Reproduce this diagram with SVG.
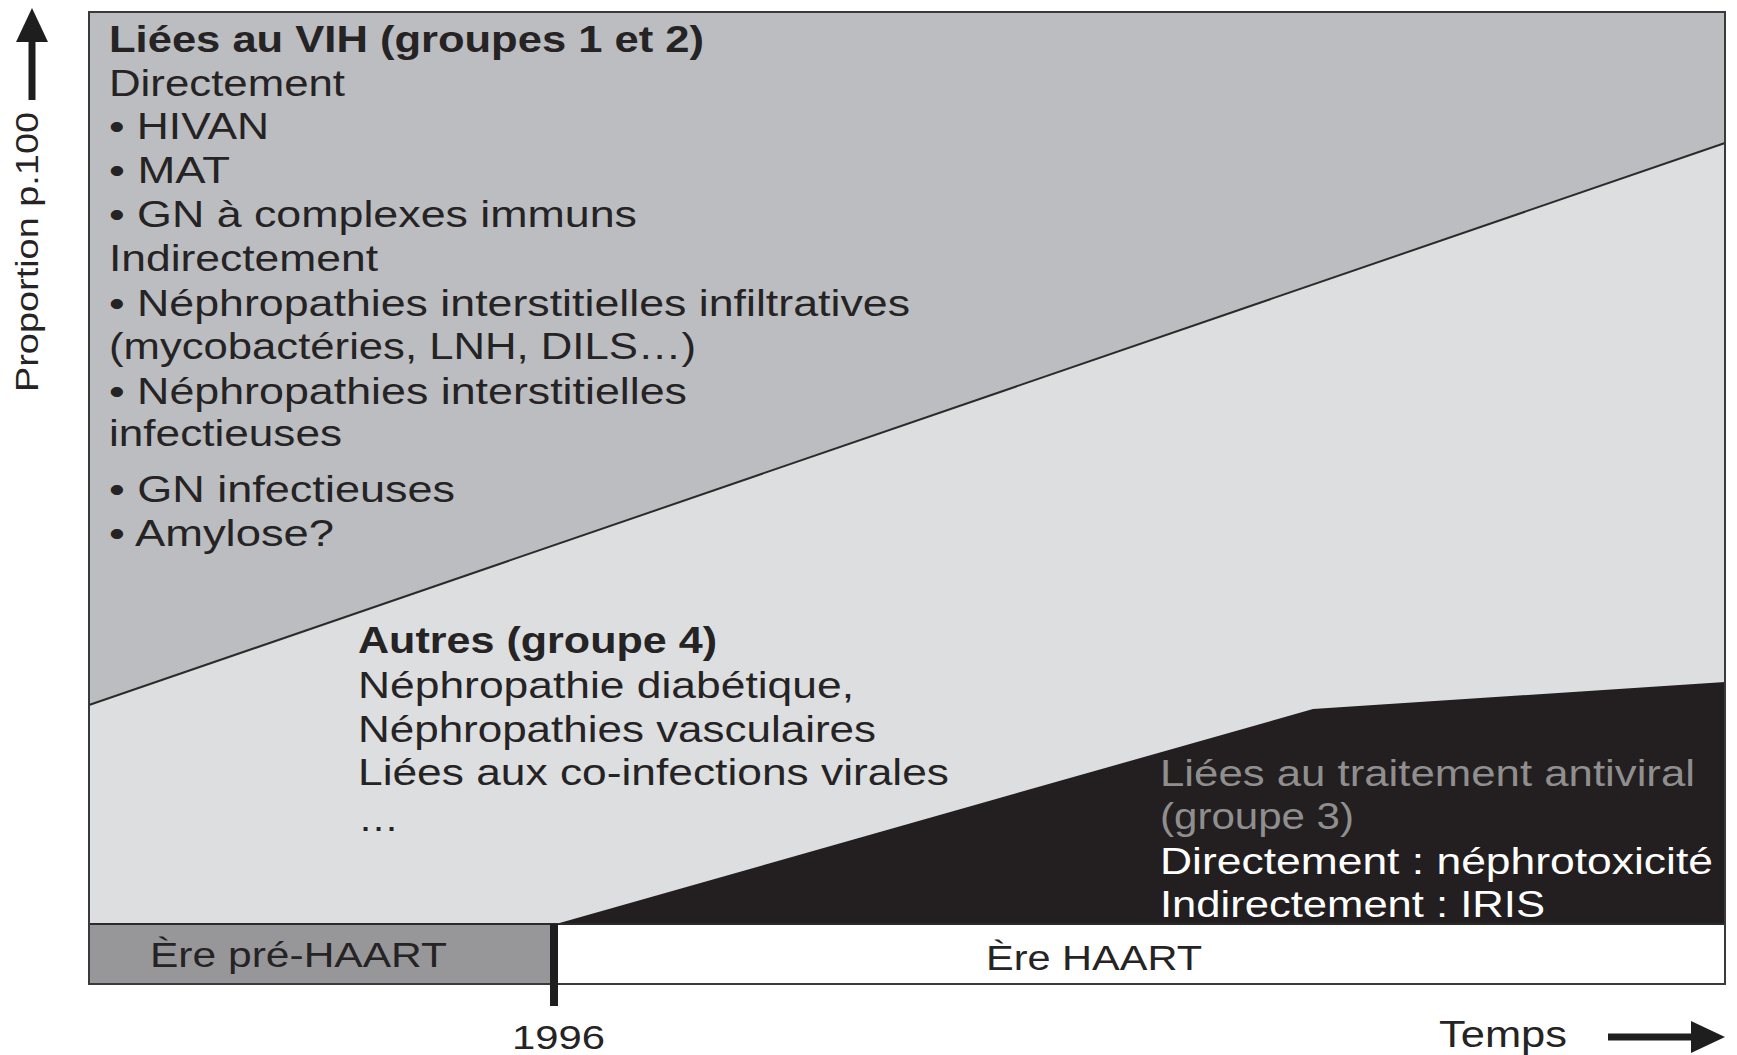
<svg xmlns="http://www.w3.org/2000/svg" width="1737" height="1055" viewBox="0 0 1737 1055">
<style>
  .t { font-family: "Liberation Sans", Arial, Helvetica, sans-serif; fill: #262324; }
  .big { font-size: 37px; }
  .b { font-weight: bold; }
  .grey { fill: #8f8f8f; }
  .white { fill: #ffffff; }
  .axis { stroke: #1e1e1e; stroke-width: 7; fill: none; }
</style>
<defs>
  <marker id="ah" viewBox="0 0 34 32" refX="4" refY="16" markerWidth="34" markerHeight="32" markerUnits="userSpaceOnUse" orient="auto">
    <polygon points="0,0 34,16 0,32" fill="#1e1e1e"/>
  </marker>
</defs>
<rect width="1737" height="1055" fill="#ffffff"/>

<g id="region-vih">
  <polygon points="89,12 1725,12 1725,143 89,705" fill="#bbbdc0"/>
</g>
<g id="region-autres">
  <polygon points="89,705 1725,143 1725,924 89,924" fill="#dcdee0"/>
</g>
<g id="region-traitement">
  <polygon points="556,924 1313,709 1725,682 1725,924" fill="#231f20"/>
</g>

<g id="connectors">
  <line x1="89" y1="705" x2="1725" y2="143" stroke="#2b2b2b" stroke-width="2"/>
</g>

<g id="era-pre">
  <rect x="89" y="924" width="465" height="60" fill="#97979a"/>
  <text class="t" x="150" y="967" font-size="35" textLength="297" lengthAdjust="spacingAndGlyphs">Ère pré-HAART</text>
</g>
<g id="era-haart">
  <rect x="554" y="924" width="1171" height="60" fill="#ffffff"/>
  <text class="t" x="986" y="970" font-size="35" textLength="216" lengthAdjust="spacingAndGlyphs">Ère HAART</text>
</g>

<g id="frame">
  <line x1="89" y1="924" x2="1725" y2="924" stroke="#2b2b2b" stroke-width="2"/>
  <rect x="89" y="12" width="1636" height="972" fill="none" stroke="#3a3a3a" stroke-width="2"/>
  <line x1="554" y1="924" x2="554" y2="1006" stroke="#1e1e1e" stroke-width="8"/>
</g>

<g id="label-vih" class="t big">
  <text class="b" x="109" y="52" textLength="595" lengthAdjust="spacingAndGlyphs">Liées au VIH (groupes 1 et 2)</text>
  <text x="109" y="96" textLength="236" lengthAdjust="spacingAndGlyphs">Directement</text>
  <text x="109" y="139" textLength="160" lengthAdjust="spacingAndGlyphs">• HIVAN</text>
  <text x="109" y="183" textLength="121" lengthAdjust="spacingAndGlyphs">• MAT</text>
  <text x="109" y="227" textLength="528" lengthAdjust="spacingAndGlyphs">• GN à complexes immuns</text>
  <text x="109" y="271" textLength="269" lengthAdjust="spacingAndGlyphs">Indirectement</text>
  <text x="109" y="316" textLength="801" lengthAdjust="spacingAndGlyphs">• Néphropathies interstitielles infiltratives</text>
  <text x="109" y="359" textLength="587" lengthAdjust="spacingAndGlyphs">(mycobactéries, LNH, DILS…)</text>
  <text x="109" y="404" textLength="578" lengthAdjust="spacingAndGlyphs">• Néphropathies interstitielles</text>
  <text x="109" y="446" textLength="233" lengthAdjust="spacingAndGlyphs">infectieuses</text>
  <text x="109" y="502" textLength="346" lengthAdjust="spacingAndGlyphs">• GN infectieuses</text>
  <text x="109" y="546" textLength="225" lengthAdjust="spacingAndGlyphs">• Amylose?</text>
</g>

<g id="label-autres" class="t big">
  <text class="b" x="358" y="653" textLength="359" lengthAdjust="spacingAndGlyphs">Autres (groupe 4)</text>
  <text x="358" y="698" textLength="496" lengthAdjust="spacingAndGlyphs">Néphropathie diabétique,</text>
  <text x="358" y="742" textLength="518" lengthAdjust="spacingAndGlyphs">Néphropathies vasculaires</text>
  <text x="358" y="785" textLength="591" lengthAdjust="spacingAndGlyphs">Liées aux co-infections virales</text>
  <text x="358" y="831" textLength="41" lengthAdjust="spacingAndGlyphs">…</text>
</g>

<g id="label-traitement" class="t big">
  <text class="grey" x="1160" y="786" textLength="535" lengthAdjust="spacingAndGlyphs">Liées au traitement antiviral</text>
  <text class="grey" x="1160" y="829" textLength="194" lengthAdjust="spacingAndGlyphs">(groupe 3)</text>
  <text class="white" x="1160" y="874" textLength="553" lengthAdjust="spacingAndGlyphs">Directement : néphrotoxicité</text>
  <text class="white" x="1160" y="917" textLength="385" lengthAdjust="spacingAndGlyphs">Indirectement : IRIS</text>
</g>

<g id="axis-y">
  <line class="axis" x1="32" y1="100" x2="32" y2="38" marker-end="url(#ah)"/>
  <text class="t" transform="translate(38,392) rotate(-90)" font-size="32" textLength="280" lengthAdjust="spacingAndGlyphs">Proportion p.100</text>
</g>
<g id="axis-x">
  <line class="axis" x1="1608" y1="1037" x2="1695" y2="1037" marker-end="url(#ah)"/>
  <text class="t" x="1439" y="1047" font-size="36" textLength="128" lengthAdjust="spacingAndGlyphs">Temps</text>
</g>
<g id="year-1996">
  <text class="t" x="512" y="1049" font-size="33" textLength="93" lengthAdjust="spacingAndGlyphs">1996</text>
</g>
</svg>
